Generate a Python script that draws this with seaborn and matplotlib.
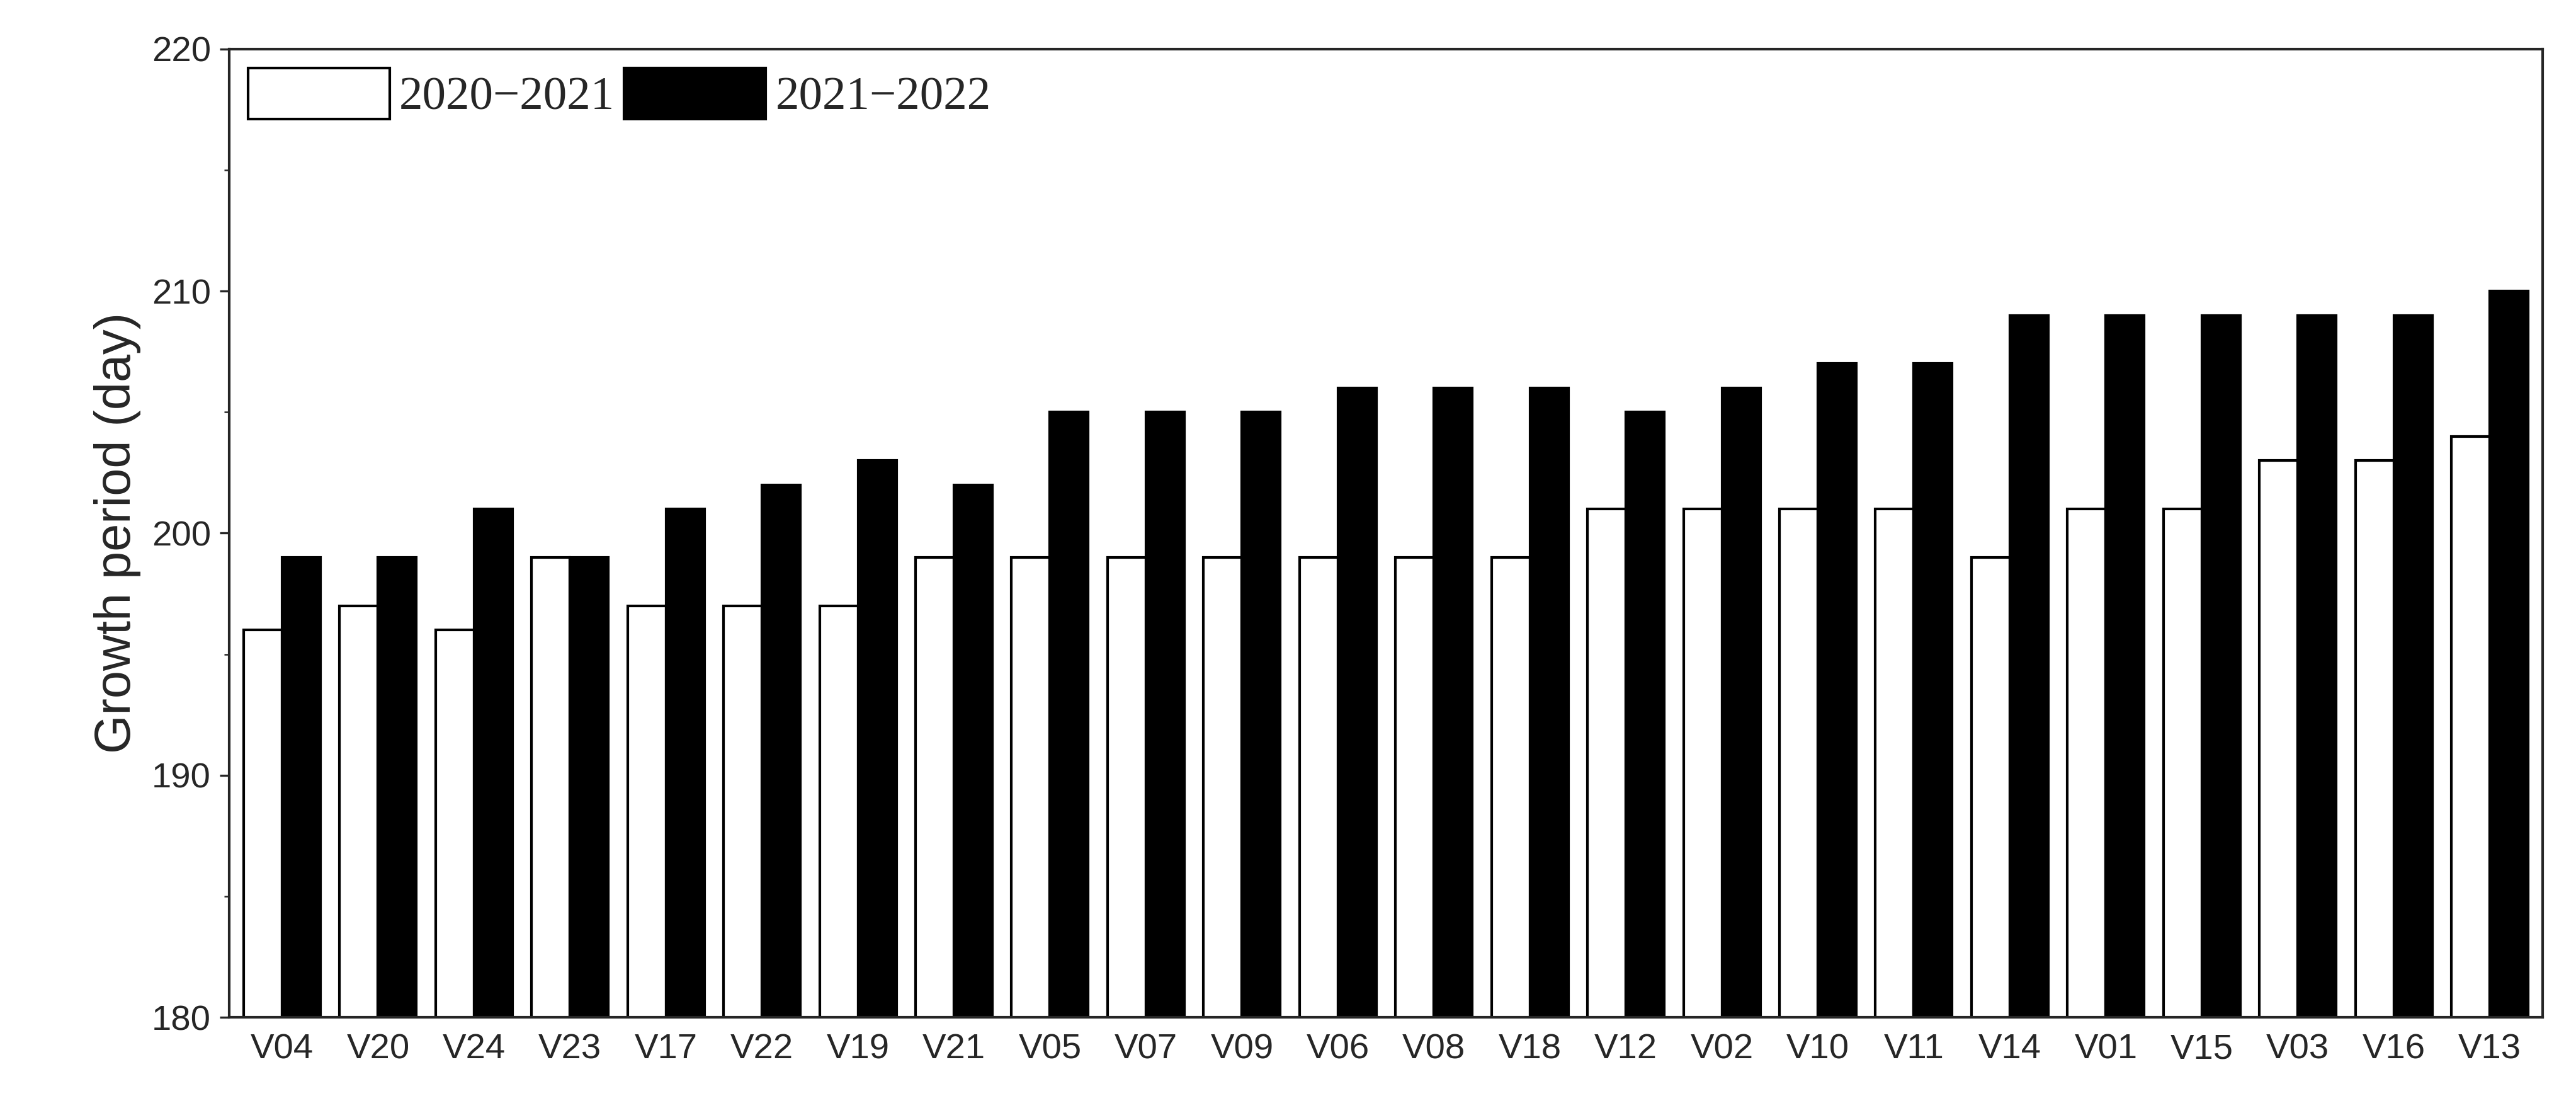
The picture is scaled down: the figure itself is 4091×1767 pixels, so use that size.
import matplotlib
matplotlib.use('Agg')
import matplotlib.pyplot as plt
import seaborn as sns
import pandas as pd
from matplotlib.ticker import MultipleLocator

varieties = ['V04', 'V20', 'V24', 'V23', 'V17', 'V22', 'V19', 'V21', 'V05', 'V07', 'V09', 'V06',
             'V08', 'V18', 'V12', 'V02', 'V10', 'V11', 'V14', 'V01', 'V15', 'V03', 'V16', 'V13']
season_2020 = [196, 197, 196, 199, 197, 197, 197, 199, 199, 199, 199, 199,
               199, 199, 201, 201, 201, 201, 199, 201, 201, 203, 203, 204]
season_2021 = [199, 199, 201, 199, 201, 202, 203, 202, 205, 205, 205, 206,
               206, 206, 205, 206, 207, 207, 209, 209, 209, 209, 209, 210]
seasons = ['2020\u22122021', '2021\u22122022']

df = pd.DataFrame({
    'Variety': varieties * 2,
    'Days': season_2020 + season_2021,
    'Season': [seasons[0]] * len(varieties) + [seasons[1]] * len(varieties),
})

sns.set_style('ticks')
plt.rcParams['font.family'] = ['Liberation Sans', 'DejaVu Sans']
fig = plt.figure(figsize=(13.637, 5.89), dpi=300)
ax = fig.add_axes([0.089, 0.086, 0.898, 0.87])
sns.barplot(data=df, x='Variety', y='Days', hue='Season', order=varieties, hue_order=seasons,
            palette=['white', 'black'], edgecolor='black', linewidth=1.0, width=0.8,
            saturation=1, ax=ax)
ax.set_ylim(180, 220)
ax.set_xlim(-0.55, len(varieties) - 0.45)
ax.yaxis.set_major_locator(MultipleLocator(10))
ax.yaxis.set_minor_locator(MultipleLocator(5))
ax.tick_params(axis='both', labelsize=13.5, direction='out')
ax.tick_params(axis='x', length=0, pad=6)
ax.set_xlabel('')
ax.set_ylabel('Growth period (day)', fontsize=19)
for s in ax.spines.values():
    s.set_visible(True)
    s.set_linewidth(1.0)
ax.legend(loc='upper left', ncol=2, frameon=False, prop={'family': 'Liberation Serif', 'size': 18},
          handlelength=3.0, handleheight=1.3, columnspacing=0.2, handletextpad=0.2,
          borderaxespad=0.1, borderpad=0.3)
fig.savefig('out.png', dpi=300)
